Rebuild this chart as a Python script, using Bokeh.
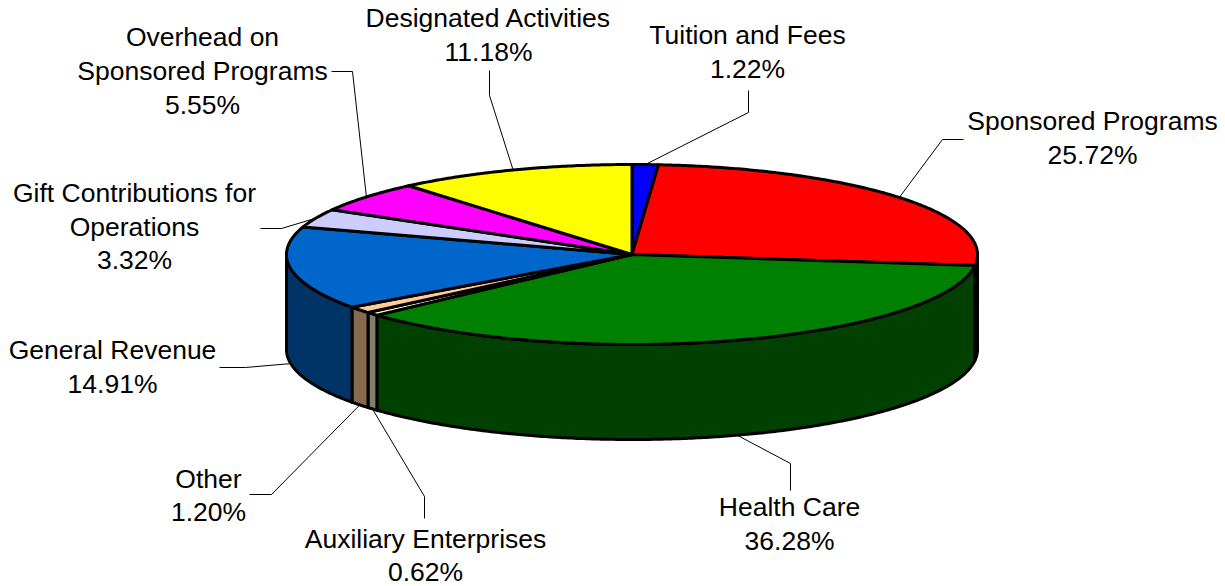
import math
from bokeh.plotting import figure
from bokeh.models import Range1d, ColumnDataSource
from bokeh.core.properties import value
from bokeh.embed import file_html
from bokeh.resources import INLINE

# ---- data (clockwise from 12 o'clock)
categories = ["Tuition and Fees", "Sponsored Programs", "Health Care", "Auxiliary Enterprises",
              "Other", "General Revenue", "Gift Contributions for Operations",
              "Overhead on Sponsored Programs", "Designated Activities"]
shares = [1.22, 25.72, 36.28, 0.62, 1.20, 14.91, 3.32, 5.55, 11.18]
top_colors = ["#0000FF", "#FF0000", "#008000", "#FFFFCC", "#FFCC99", "#0066CC", "#CCCCFF", "#FF00FF", "#FFFF00"]
side_colors = ["#000080", "#800000", "#004000", "#80806A", "#86694F", "#003366", "#666680", "#800080", "#808000"]

# ---- layout
W, H = 1225, 586
CX, CY, RX, RY, DEPTH = 631.5, 254.0, 345.5, 90.0, 95.0
FONT_PX = 26.5
TEXT_DY = -0.8
# label lines: (text lines, centre x, centre y of each line)
label_layout = {
    "Tuition and Fees": (["Tuition and Fees", "1.22%"], 747, [35, 69.5]),
    "Sponsored Programs": (["Sponsored Programs", "25.72%"], 1092, [121, 155]),
    "Health Care": (["Health Care", "36.28%"], 789, [507, 541]),
    "Auxiliary Enterprises": (["Auxiliary Enterprises", "0.62%"], 425, [539, 572]),
    "Other": (["Other", "1.20%"], 208, [479, 512]),
    "General Revenue": (["General Revenue", "14.91%"], 112, [350, 384]),
    "Gift Contributions for Operations": (["Gift Contributions for", "Operations", "3.32%"], 134, [193, 227, 260]),
    "Overhead on Sponsored Programs": (["Overhead on", "Sponsored Programs", "5.55%"], 202, [37, 71, 105]),
    "Designated Activities": (["Designated Activities", "11.18%"], 488, [18, 52]),
}
# leader elbows: (elbow point, end point) in page pixels
leader_layout = {
    "Tuition and Fees": [(748, 112), (748, 90)],
    "Sponsored Programs": [(942, 139), (963, 139)],
    "Health Care": [(790, 463), (790, 490)],
    "Auxiliary Enterprises": [(424, 496), (424, 518)],
    "Other": [(271, 494), (249, 494)],
    "General Revenue": [(245, 367), (219, 367)],
    "Gift Contributions for Operations": [(281, 228), (260, 228)],
    "Overhead on Sponsored Programs": [(352, 71), (331, 71)],
    "Designated Activities": [(489, 95), (489, 70)],
}


def rim(t_deg, drop=0.0):
    t = math.radians(t_deg)
    return CX + RX * math.sin(t), CY - RY * math.cos(t) + drop


def arc(a, b, drop=0.0, step=0.5):
    n = max(2, int(abs(b - a) / step) + 1)
    return [rim(a + (b - a) * i / (n - 1), drop) for i in range(n)]


total = sum(shares)
edges = [0.0]
for s in shares:
    edges.append(edges[-1] + s / total * 360.0)

wall_x, wall_y, wall_c = [], [], []
top_x, top_y, top_c = [], [], []
for i, c in enumerate(top_colors):
    a, b = edges[i], edges[i + 1]
    lo, hi = max(a, 90.0), min(b, 270.0)
    if lo < hi:
        pts = arc(lo, hi) + arc(hi, lo, DEPTH)
        wall_x.append([q[0] for q in pts])
        wall_y.append([q[1] for q in pts])
        wall_c.append(side_colors[i])
    pts = [(CX, CY)] + arc(a, b)
    top_x.append([q[0] for q in pts])
    top_y.append([q[1] for q in pts])
    top_c.append(c)

p = figure(width=W, height=H, output_backend="svg", toolbar_location=None,
           x_range=Range1d(0, W), y_range=Range1d(H, 0),
           min_border=0, outline_line_color=None, background_fill_color="white",
           border_fill_color="white")
p.axis.visible = False
p.grid.visible = False

# leaders first, pie on top
for i, name in enumerate(categories):
    mid = (edges[i] + edges[i + 1]) / 2
    front = 90 < mid < 270
    ax, ay = rim(mid, DEPTH if front else 0.0)
    elbow, end = leader_layout[name]
    p.line([ax, elbow[0], end[0]], [ay, elbow[1], end[1]], line_color="#000000", line_width=1)

p.patches("x", "y", source=ColumnDataSource(dict(x=wall_x, y=wall_y, c=wall_c)),
          fill_color="c", line_color="#000000", line_width=3, line_join="round")
p.patches("x", "y", source=ColumnDataSource(dict(x=top_x, y=top_y, c=top_c)),
          fill_color="c", line_color="#000000", line_width=3, line_join="round")

tx, ty, tt = [], [], []
for name in categories:
    lines, x, ys = label_layout[name]
    for line, y in zip(lines, ys):
        tx.append(x)
        ty.append(y + TEXT_DY)
        tt.append(line)
p.text("x", "y", text="t", source=ColumnDataSource(dict(x=tx, y=ty, t=tt)),
       text_font=value("Liberation Sans"), text_font_size=f"{FONT_PX}px",
       text_align="center", text_baseline="middle", text_color="#000000")

open("out.html", "w").write(file_html(p, INLINE))
